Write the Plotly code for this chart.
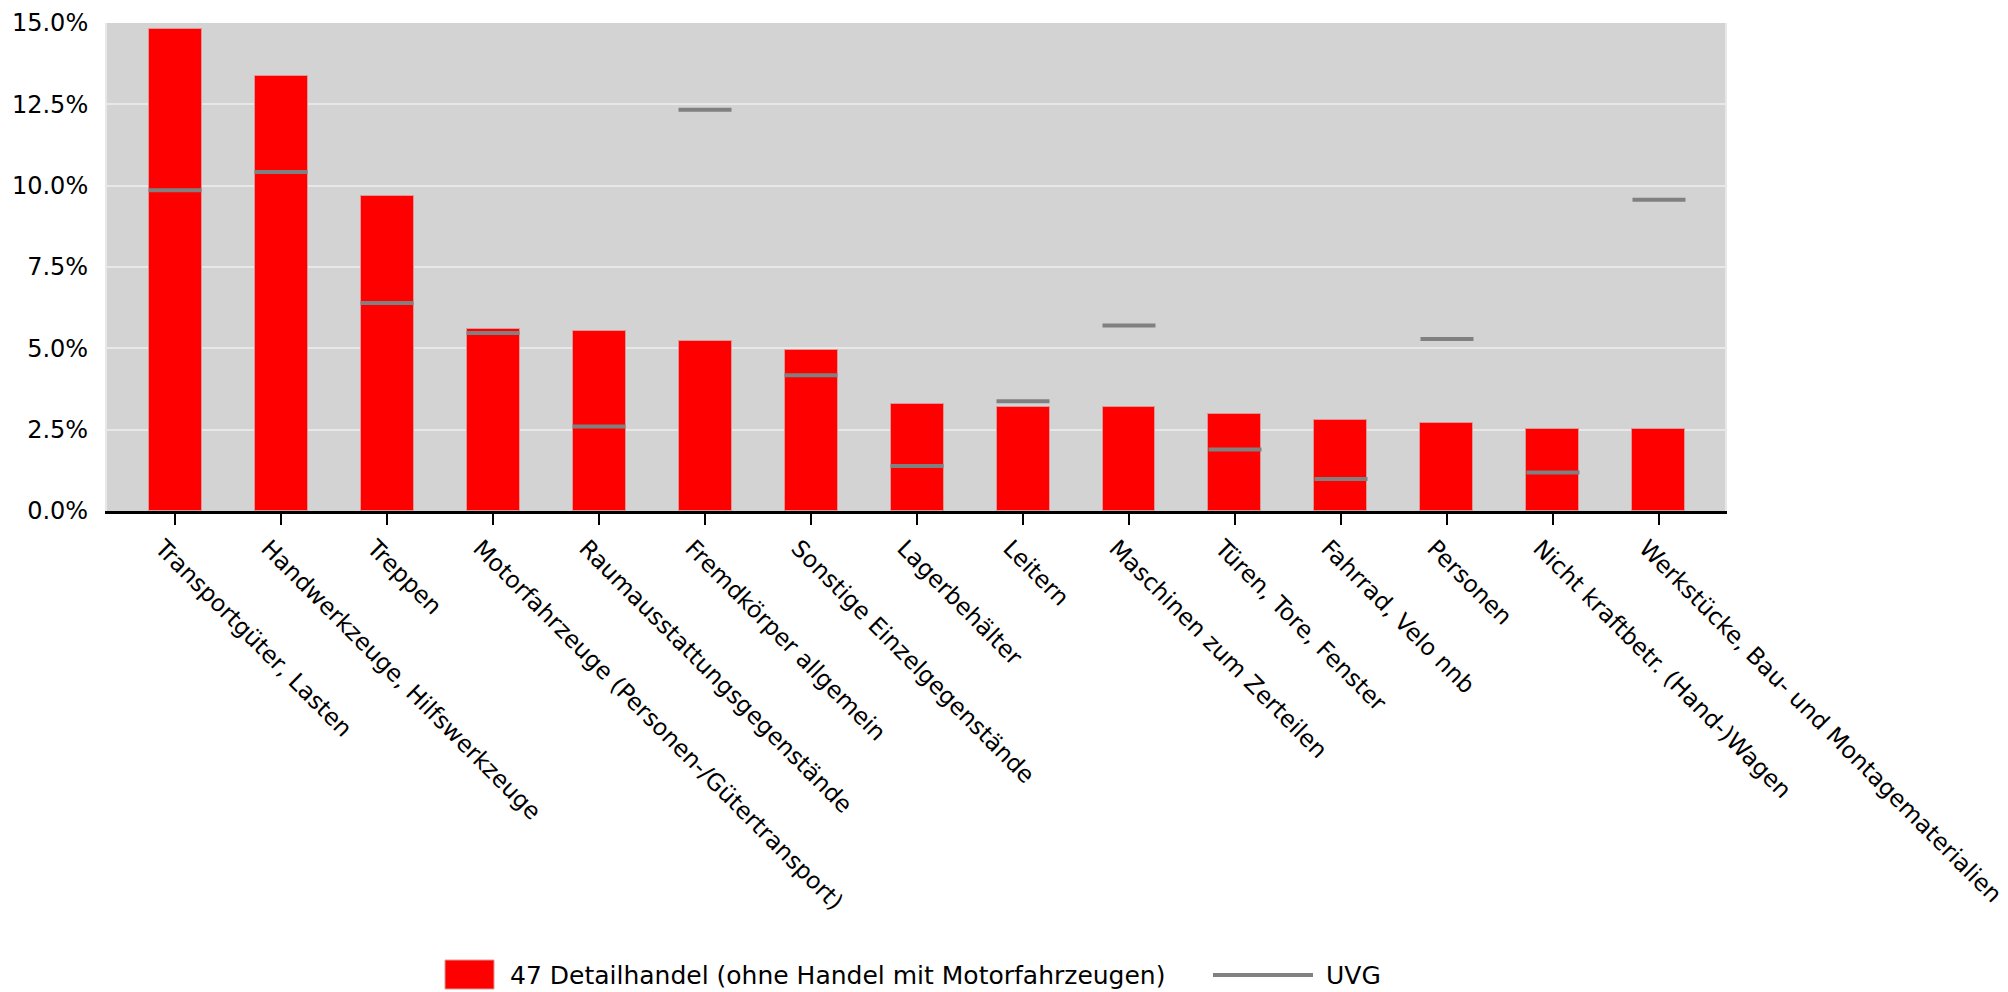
import plotly.graph_objects as go

categories = [
    "Transportgüter, Lasten",
    "Handwerkzeuge, Hilfswerkzeuge",
    "Treppen",
    "Motorfahrzeuge (Personen-/Gütertransport)",
    "Raumausstattungsgegenstände",
    "Fremdkörper allgemein",
    "Sonstige Einzelgegenstände",
    "Lagerbehälter",
    "Leitern",
    "Maschinen zum Zerteilen",
    "Türen, Tore, Fenster",
    "Fahrrad, Velo nnb",
    "Personen",
    "Nicht kraftbetr. (Hand-)Wagen",
    "Werkstücke, Bau- und Montagematerialien",
]
detailhandel = [14.82, 13.37, 9.69, 5.60, 5.52, 5.23, 4.95, 3.28, 3.19, 3.19, 2.99, 2.81, 2.72, 2.52, 2.52]
uvg = [9.86, 10.42, 6.39, 5.47, 2.60, 12.33, 4.17, 1.38, 3.37, 5.70, 1.89, 0.98, 5.29, 1.18, 9.57]
y_ticks = [0, 2.5, 5, 7.5, 10, 12.5, 15]

name_bar = "47 Detailhandel (ohne Handel mit Motorfahrzeugen)"
name_line = "UVG"

W, H = 2008, 992
L, R, T, B = 107, 1725, 23, 511
FONT = "DejaVu Sans"
FS = 24
FS_X = 23.5
FS_LEG = 25
BAR_W = 0.5

idx = list(range(len(categories)))

fig = go.Figure()
fig.add_trace(go.Bar(
    x=idx, y=detailhandel, width=BAR_W, name=name_bar,
    marker=dict(color="#ff0000", line=dict(color="rgba(225,150,150,1)", width=1)),
    showlegend=False,
))

ux, uy = [], []
for i, v in zip(idx, uvg):
    ux += [i - BAR_W / 2, i + BAR_W / 2, None]
    uy += [v, v, None]
fig.add_trace(go.Scatter(
    x=ux, y=uy, mode="lines", name=name_line,
    line=dict(color="#808080", width=4), showlegend=False,
))

def px_x(p):
    return (p - L) / (R - L)

def px_y(p):
    return (B - p) / (B - T)

# custom legend
fig.add_shape(type="rect", xref="paper", yref="paper",
              x0=px_x(445), x1=px_x(494), y0=px_y(989), y1=px_y(960),
              fillcolor="#ff0000", line=dict(color="rgba(225,150,150,1)", width=1))
fig.add_annotation(xref="paper", yref="paper", x=px_x(508), y=px_y(975),
                   text=name_bar, showarrow=False, xanchor="left", yanchor="middle",
                   font=dict(family=FONT, size=FS_LEG, color="#000000"))
fig.add_shape(type="line", xref="paper", yref="paper",
              x0=px_x(1213), x1=px_x(1313), y0=px_y(975), y1=px_y(975),
              line=dict(color="#808080", width=4))
fig.add_annotation(xref="paper", yref="paper", x=px_x(1324), y=px_y(975),
                   text=name_line, showarrow=False, xanchor="left", yanchor="middle",
                   font=dict(family=FONT, size=FS_LEG, color="#000000"))

fig.update_layout(
    width=W, height=H,
    margin=dict(l=L, r=W - R, t=T, b=H - B, pad=0),
    paper_bgcolor="#ffffff", plot_bgcolor="#d3d3d3",
    font=dict(family=FONT, size=FS, color="#000000"),
    showlegend=False,
    bargap=0,
)
fig.update_xaxes(
    range=[-0.642, 14.623], tickmode="array", tickvals=idx, ticktext=categories,
    tickangle=45, showgrid=False, zeroline=False,
    showline=True, linecolor="#000000", linewidth=3,
    ticks="outside", ticklen=11, tickwidth=2, tickcolor="#000000",
    ticklabelshift=-13, ticklabeloverflow="allow",
    automargin=False, tickfont=dict(family=FONT, size=FS_X, color="#000000"),
)
fig.update_yaxes(
    range=[0, 15], tickmode="array", tickvals=y_ticks,
    ticktext=[f"{v:.1f}%" for v in y_ticks],
    showgrid=True, gridcolor="#e8e8e8", gridwidth=2, zeroline=False,
    showline=True, linecolor="#e8e8e8", linewidth=2, mirror=True,
    ticks="", ticklabelstandoff=12, automargin=False,
    tickfont=dict(family=FONT, size=FS, color="#000000"),
)

fig.write_html(
    "out.html",
    config={"displayModeBar": False},
    post_script="document.body.style.margin='0';document.body.style.overflow='hidden';",
)
